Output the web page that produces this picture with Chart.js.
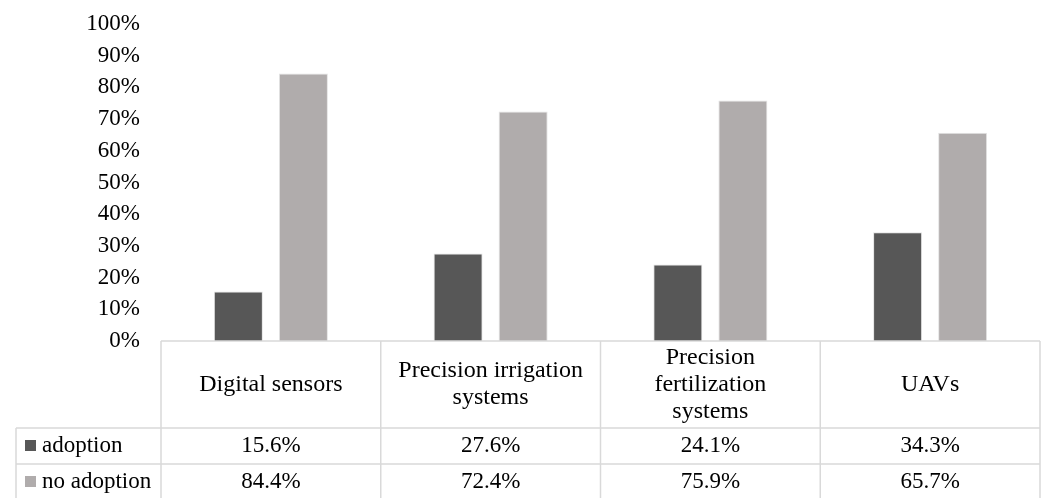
<!DOCTYPE html>
<html>
<head>
<meta charset="utf-8">
<script src="https://cdn.jsdelivr.net/npm/chart.js@4/dist/chart.umd.min.js"></script>
<style>
  html, body { margin: 0; padding: 0; background: #ffffff; }
  #box { width: 1043px; height: 498px; }
</style>
</head>
<body>
<div id="box"><canvas id="grafico"></canvas></div>
<script>
// dati
const categorie = [
    ['Digital sensors'],
    ['Precision irrigation', 'systems'],
    ['Precision', 'fertilization', 'systems'],
    ['UAVs']
];
const adozione = [15.6, 27.6, 24.1, 34.3];
const nonAdozione = [84.4, 72.4, 75.9, 65.7];
const tickY = [0, 10, 20, 30, 40, 50, 60, 70, 80, 90, 100];

const FONT = '"Liberation Serif", "Times New Roman", serif';
const LINEA = '#d9d9d9';

// tabella dati sotto il grafico (come in Excel)
const tabellaDati = {
    id: 'tabellaDati',
    afterDraw(chart) {
        const ctx = chart.ctx;
        const area = chart.chartArea;
        const x = chart.scales.x;
        const n = chart.data.labels.length;
        const passo = (area.right - area.left) / n;
        const top = area.bottom;
        const riga1 = top + 87;     // fine intestazione
        const riga2 = riga1 + 36;   // fine riga adoption
        const fondo = chart.height + 2;
        const sinistra = 16;

        ctx.save();
        ctx.strokeStyle = LINEA;
        ctx.lineWidth = 1.5;
        ctx.beginPath();
        // orizzontali
        ctx.moveTo(area.left, top); ctx.lineTo(area.right, top);
        ctx.moveTo(sinistra, riga1); ctx.lineTo(area.right, riga1);
        ctx.moveTo(sinistra, riga2); ctx.lineTo(area.right, riga2);
        // verticali
        ctx.moveTo(sinistra, riga1); ctx.lineTo(sinistra, fondo);
        for (let i = 0; i <= n; i++) {
            const xx = area.left + passo * i;
            ctx.moveTo(xx, top); ctx.lineTo(xx, fondo);
        }
        ctx.stroke();

        ctx.fillStyle = '#000000';
        ctx.font = '24px ' + FONT;
        ctx.textAlign = 'center';
        ctx.textBaseline = 'middle';
        const altezzaRiga = 27;
        chart.data.labels.forEach((lab, i) => {
            const cx = x.getPixelForValue(i);
            const righe = Array.isArray(lab) ? lab : [lab];
            const y0 = (top + riga1) / 2 - (righe.length - 1) * altezzaRiga / 2;
            righe.forEach((t, k) => ctx.fillText(t, cx, y0 + k * altezzaRiga));
        });

        ctx.font = '23px ' + FONT;
        const yRighe = [(riga1 + riga2) / 2, riga2 + 18];
        chart.data.datasets.forEach((ds, d) => {
            const yy = yRighe[d];
            ds.data.forEach((v, i) => {
                ctx.textAlign = 'center';
                ctx.fillText(v.toFixed(1) + '%', x.getPixelForValue(i), yy);
            });
            // legenda nella tabella
            ctx.fillStyle = ds.backgroundColor;
            ctx.fillRect(25, yy - 6, 11, 11);
            ctx.fillStyle = '#000000';
            ctx.textAlign = 'left';
            ctx.fillText(ds.label, 42, yy);
        });
        ctx.restore();
    }
};

const ctxGrafico = document.getElementById('grafico').getContext('2d');
const grafico = new Chart(ctxGrafico, {
    type: 'bar',
    data: {
        labels: categorie,
        datasets: [
            {
                label: 'adoption',
                data: adozione,
                backgroundColor: '#575757',
                borderColor: '#e4e4e4',
                borderWidth: 1,
                categoryPercentage: 0.592,
                barPercentage: 0.754
            },
            {
                label: 'no adoption',
                data: nonAdozione,
                backgroundColor: '#b0acac',
                borderColor: '#e4e4e4',
                borderWidth: 1,
                categoryPercentage: 0.592,
                barPercentage: 0.754
            }
        ]
    },
    options: {
        responsive: true,
        maintainAspectRatio: false,
        animation: false,
        layout: {
            padding: { left: 0, right: 3, top: 24, bottom: 157 }
        },
        scales: {
            x: {
                display: false
            },
            y: {
                min: 0,
                max: 100,
                afterFit: function (scala) {
                    scala.width = 161;
                    scala.paddingTop = 12;    // il padding dei tick non deve spostare l'area
                    scala.paddingBottom = 12;
                },
                afterBuildTicks: function (scala) {
                    scala.ticks = tickY.map(v => ({ value: v }));
                },
                grid: { display: false, drawTicks: false },
                border: { display: false },
                ticks: {
                    padding: 21,
                    color: '#000000',
                    font: { family: FONT, size: 23 },
                    callback: function (value) {
                        return value + '%';
                    }
                }
            }
        },
        plugins: {
            legend: { display: false },
            tooltip: { enabled: false }
        }
    },
    plugins: [tabellaDati]
});
</script>
</body>
</html>
